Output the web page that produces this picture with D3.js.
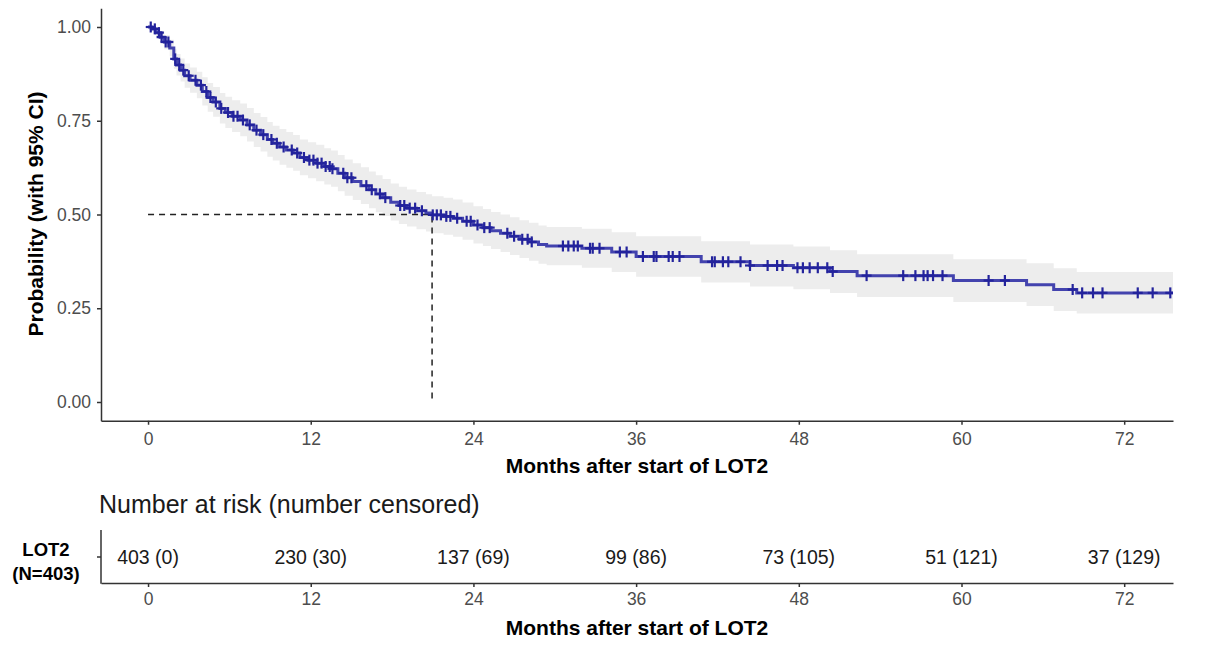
<!DOCTYPE html>
<html>
<head>
<meta http-equiv="Content-Type" content="text/html; charset=UTF-8">
<style>
body { margin: 0; background: #fff; }
svg { font-family: "Liberation Sans", Arial, sans-serif; }
.axis path, .axis line { stroke: #333; stroke-width: 1.5px; }
.axis text { fill: #4d4d4d; font-size: 17.5px; }
.title { font-weight: bold; font-size: 21px; fill: #000; }
.km { fill: none; stroke: #3030a6; stroke-width: 3px; stroke-opacity: 0.9; }
.band { fill: #ededed; }
.cens { stroke: #23239c; stroke-width: 2.2px; }
.median { fill: none; stroke: #222; stroke-width: 1.5px; stroke-dasharray: 6,5; }
</style>
</head>
<body>
<svg width="1207" height="655"></svg>
<script src="https://cdn.jsdelivr.net/npm/d3@7"></script>
<script>

// step function of the Kaplan-Meier estimate (months, probability)
var stepTimes = [0, 0.3, 0.6, 0.9, 1.2, 1.6, 1.9, 2.1, 2.4, 2.7, 3.1, 3.6, 4.0, 4.4, 4.8, 5.3, 5.7, 6.2, 6.8, 7.3,
    7.8, 8.3, 8.8, 9.2, 9.7, 10.2, 10.7, 11.2, 11.8, 12.4, 13.0, 13.5, 14.0, 14.5, 15.1, 15.7, 16.3, 16.8, 17.3, 17.9,
    18.5, 19.1, 19.8, 20.5, 20.95, 21.8, 22.5, 23.2, 24.0, 24.7, 25.3, 26.0, 26.7, 27.4, 28.1, 28.8, 29.4, 32.0, 34.2, 36.0,
    40.8, 44.4, 47.6, 50.3, 52.3, 59.4, 64.8, 66.8, 68.5, 75.6];
var survival = [1.000, 0.995, 0.985, 0.973, 0.960, 0.944, 0.915, 0.899, 0.885, 0.870, 0.858, 0.845, 0.828, 0.812, 0.800, 0.783, 0.772, 0.762, 0.752, 0.739,
    0.725, 0.713, 0.700, 0.690, 0.680, 0.672, 0.664, 0.652, 0.645, 0.637, 0.628, 0.622, 0.610, 0.598, 0.588, 0.577, 0.566, 0.555, 0.545, 0.533,
    0.524, 0.517, 0.510, 0.504, 0.499, 0.495, 0.490, 0.482, 0.472, 0.465, 0.457, 0.450, 0.442, 0.434, 0.427, 0.420, 0.416, 0.410, 0.400, 0.388,
    0.374, 0.364, 0.358, 0.348, 0.337, 0.324, 0.313, 0.300, 0.291, 0.291];
var lowerCI = [1.000, 0.988, 0.973, 0.957, 0.941, 0.922, 0.889, 0.871, 0.855, 0.838, 0.825, 0.810, 0.791, 0.774, 0.761, 0.743, 0.731, 0.720, 0.709, 0.695,
    0.680, 0.668, 0.654, 0.644, 0.633, 0.625, 0.617, 0.605, 0.597, 0.589, 0.580, 0.574, 0.562, 0.550, 0.539, 0.528, 0.517, 0.506, 0.496, 0.484,
    0.475, 0.468, 0.461, 0.455, 0.450, 0.446, 0.441, 0.433, 0.423, 0.416, 0.408, 0.400, 0.392, 0.384, 0.377, 0.369, 0.365, 0.358, 0.347, 0.334,
    0.319, 0.308, 0.301, 0.291, 0.280, 0.267, 0.256, 0.243, 0.236, 0.236];
var upperCI = [1.000, 1.000, 0.997, 0.989, 0.979, 0.966, 0.942, 0.928, 0.916, 0.903, 0.892, 0.881, 0.866, 0.851, 0.840, 0.824, 0.814, 0.805, 0.796, 0.784,
    0.771, 0.760, 0.747, 0.737, 0.728, 0.720, 0.712, 0.700, 0.693, 0.686, 0.677, 0.671, 0.659, 0.647, 0.637, 0.626, 0.615, 0.605, 0.595, 0.583,
    0.574, 0.567, 0.560, 0.554, 0.549, 0.545, 0.540, 0.532, 0.522, 0.515, 0.507, 0.500, 0.493, 0.485, 0.478, 0.471, 0.467, 0.462, 0.453, 0.442,
    0.429, 0.420, 0.415, 0.405, 0.394, 0.381, 0.370, 0.357, 0.347, 0.347];

// censoring times (months)
var censorTimes = [0.2, 0.5, 0.8, 1.0, 1.3, 1.5, 2.0, 2.3, 2.6, 3.0, 3.5, 3.9, 4.3, 4.6, 5.0, 5.4, 5.9, 6.3, 6.6, 7.0,
    7.5, 8.0, 8.5, 9.1, 9.5, 10.0, 10.6, 11.0, 11.5, 11.9,
    12.2, 12.5, 12.8, 13.1, 13.4, 13.6, 14.4, 14.7, 15.0, 16.1, 16.5, 17.1, 17.5, 18.6, 18.9, 19.3, 19.7, 20.2,
    21.0, 21.3, 21.6, 22.0, 22.3, 22.8, 23.5, 23.8,
    24.3, 24.8, 25.2, 26.5, 27.0, 27.6, 28.0, 28.3, 30.6, 31.0, 31.4, 31.7, 32.6, 32.8, 33.3, 34.8, 35.3,
    36.5, 37.3, 37.5, 38.4, 38.7, 39.2, 41.6, 41.8, 42.4, 42.8, 43.7, 44.4, 45.7, 46.4, 46.8, 47.9,
    48.3, 48.8, 49.4, 50.1, 50.5, 53.0, 55.7, 56.6, 57.2, 57.5, 57.9, 58.6,
    62.0, 63.2, 68.2, 68.9, 69.7, 70.4, 73.0, 74.1, 75.4];

var medianTime = 20.95;
var xTicks = [0, 12, 24, 36, 48, 60, 72];
var yTicks = [0, 0.25, 0.5, 0.75, 1];
var riskLabels = ["403 (0)", "230 (30)", "137 (69)", "99 (86)", "73 (105)", "51 (121)", "37 (129)"];

var svg = d3.select("svg");

var x = d3.scaleLinear().domain([-3.47, 75.6]).range([101, 1173]);
var y = d3.scaleLinear().domain([-0.05, 1.05]).range([420.75, 8.25]);

svg.append("defs").append("clipPath").attr("id", "clip")
  .append("rect").attr("x", 101).attr("y", 8).attr("width", 1072).attr("height", 413);

var plot = svg.append("g").attr("clip-path", "url(#clip)");

var steps = stepTimes.map(function(t, i) {
  return {t: t, s: survival[i], lo: lowerCI[i], hi: upperCI[i]};
});

var area = d3.area()
    .curve(d3.curveStepAfter)
    .x(function(d) { return x(d.t); })
    .y0(function(d) { return y(d.lo); })
    .y1(function(d) { return y(d.hi); });

var line = d3.line()
    .curve(d3.curveStepAfter)
    .x(function(d) { return x(d.t); })
    .y(function(d) { return y(d.s); });

plot.append("path").datum(steps).attr("class", "band").attr("d", area);

// median lines
plot.append("path").attr("class", "median")
    .attr("d", "M" + x(0) + "," + y(0.5) + "H" + x(medianTime) + "V" + y(0));

plot.append("path").datum(steps).attr("class", "km").attr("d", line);

function survAt(t) {
  var i = d3.bisectRight(stepTimes, t) - 1;
  return survival[Math.max(0, i)];
}

var cens = plot.selectAll(".cm").data(censorTimes).enter().append("g")
    .attr("transform", function(d) { return "translate(" + x(d) + "," + y(survAt(d)) + ")"; });
cens.append("line").attr("class", "cens").attr("x1", -5).attr("x2", 5);
cens.append("line").attr("class", "cens").attr("y1", -5.5).attr("y2", 5.5);

// axes of the survival panel
svg.append("g")
    .attr("class", "axis")
    .attr("transform", "translate(0,420.75)")
    .call(d3.axisBottom(x).tickValues(xTicks).tickSize(4).tickPadding(6).tickSizeOuter(0))
    .selectAll("text").attr("dy", "0.8em");

svg.append("g")
    .attr("class", "axis")
    .attr("transform", "translate(101,0)")
    .call(d3.axisLeft(y).tickValues(yTicks).tickFormat(d3.format(".2f")).tickSize(4).tickPadding(6).tickSizeOuter(0));

svg.append("text").attr("class", "title")
    .attr("x", 637).attr("y", 473).attr("text-anchor", "middle")
    .text("Months after start of LOT2");

svg.append("text").attr("class", "title")
    .attr("transform", "translate(43,214) rotate(-90)")
    .attr("text-anchor", "middle")
    .text("Probability (with 95% CI)");

// risk table
svg.append("text")
    .attr("x", 99).attr("y", 513)
    .style("font-size", "25px").style("fill", "#1a1a1a")
    .text("Number at risk (number censored)");

var yr = d3.scalePoint().domain(["LOT2"]).range([557, 557]);

svg.append("g")
    .attr("class", "axis")
    .attr("transform", "translate(0,583)")
    .call(d3.axisBottom(x).tickValues(xTicks).tickSize(4).tickPadding(6).tickSizeOuter(0))
    .selectAll("text").attr("dy", "0.7em");

var yAxisRisk = svg.append("g").attr("class", "axis").attr("transform", "translate(101,0)");
yAxisRisk.append("line").attr("y1", 530).attr("y2", 583.75).attr("stroke", "#333").attr("stroke-width", 1.5);
yAxisRisk.append("line").attr("x1", -4).attr("x2", 0).attr("y1", yr("LOT2")).attr("y2", yr("LOT2"))
    .attr("stroke", "#333").attr("stroke-width", 1.5);

svg.append("text").attr("x", 46).attr("y", 556).attr("text-anchor", "middle")
    .style("font-weight", "bold").style("font-size", "18.5px").text("LOT2");
svg.append("text").attr("x", 46).attr("y", 580).attr("text-anchor", "middle")
    .style("font-weight", "bold").style("font-size", "18.5px").text("(N=403)");

svg.selectAll(".risk").data(riskLabels).enter().append("text")
    .attr("x", function(d, i) { return x(xTicks[i]); })
    .attr("y", yr("LOT2")).attr("dy", "0.35em")
    .attr("text-anchor", "middle")
    .style("font-size", "19.5px").style("fill", "#1a1a1a")
    .text(function(d) { return d; });

svg.append("text").attr("class", "title")
    .attr("x", 637).attr("y", 635).attr("text-anchor", "middle")
    .text("Months after start of LOT2");

</script>
</body></html>
